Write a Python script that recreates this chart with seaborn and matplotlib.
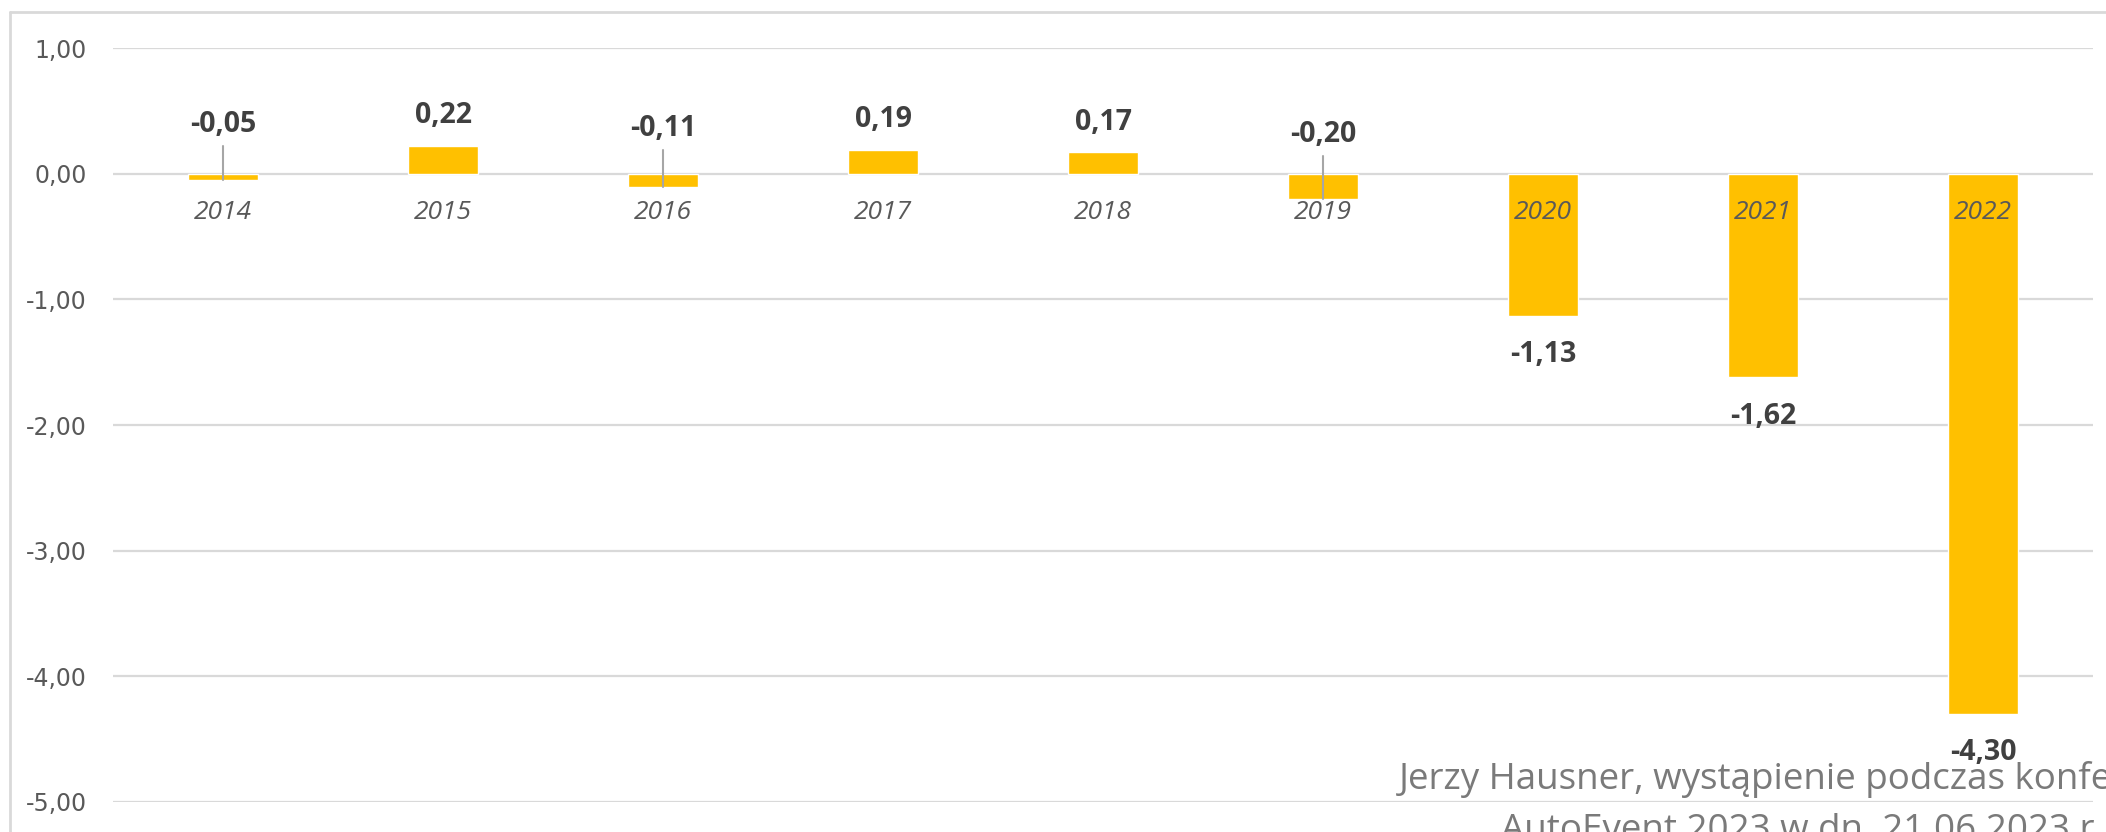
import matplotlib
matplotlib.use("Agg")
import matplotlib.pyplot as plt
from matplotlib import font_manager
from matplotlib.lines import Line2D
import pandas as pd
import seaborn as sns

# data
years = ["2014", "2015", "2016", "2017", "2018", "2019", "2020", "2021", "2022"]
values = [-0.05, 0.22, -0.11, 0.19, 0.17, -0.20, -1.13, -1.62, -4.30]
y_ticks = [1.0, 0.0, -1.0, -2.0, -3.0, -4.0, -5.0]
source_lines = [
    "Jerzy Hausner, wystąpienie podczas konferencji",
    "AutoEvent 2023 w dn. 21.06.2023 r.",
]

BAR = "#FFC000"
GRID = "#D9D9D9"
TICK = "#595959"
LABEL = "#404040"
W, H = 2106, 832


def pick_font(candidates):
    for name in candidates:
        try:
            font_manager.findfont(font_manager.FontProperties(family=name),
                                  fallback_to_default=False)
            return name
        except ValueError:
            pass
    return "DejaVu Sans"


def fmt(v):
    return f"{v:.2f}".replace(".", ",")


sns.set_theme(style="white")
plt.rcParams["font.family"] = ["DejaVu Sans"]
narrow = pick_font(["Liberation Sans Narrow", "Open Sans", "Roboto"])
is_narrow = narrow == "Liberation Sans Narrow"
fam = [narrow, "DejaVu Sans"]

fig = plt.figure(figsize=(W / 100, H / 100), dpi=100)
fig.patch.set_facecolor("white")
ax = fig.add_axes([113 / W, 1 - 802 / H, 1980 / W, 754 / H])

df = pd.DataFrame({"year": years, "value": values})
sns.barplot(data=df, x="year", y="value", color=BAR, saturation=1,
            width=0.32, errorbar=None, ax=ax, zorder=2)

ax.set_ylim(-5, 1)
ax.set_xlim(-0.5, len(years) - 0.5)
ax.set_yticks(y_ticks)
ax.set_yticklabels([fmt(t) for t in y_ticks])
ax.set_xlabel("")
ax.set_ylabel("")

# gridlines behind bars, tick labels above them
ax.hlines(y_ticks, 0, 1, transform=ax.get_yaxis_transform(),
          colors=GRID, lw=1.6, zorder=0.5)
ax.grid(False)
ax.set_axisbelow(False)
for s in ax.spines.values():
    s.set_visible(False)
ax.spines["bottom"].set_position(("data", 0))

ax.tick_params(axis="y", length=0, pad=19, labelsize=17, labelcolor=TICK)
ax.tick_params(axis="x", length=0, pad=19, labelcolor=TICK,
               labelsize=21 if is_narrow else 19)
for lbl in ax.get_xticklabels():
    lbl.set_fontstyle("italic")
    lbl.set_fontfamily(fam)

# data labels
lab_size = 22 if is_narrow else 20.5
for i, v in enumerate(values):
    if v >= 0:
        y = v + 0.24
    elif v < -0.5:
        y = v - 0.31
    else:
        y = 0.42 + 0.55 * v
        ax.plot([i, i], [y - 0.17, v], color="#A6A6A6", lw=1.5, zorder=3)
    ax.text(i, y, fmt(v), ha="center", va="center", fontsize=lab_size,
            fontweight="bold", color=LABEL, family=fam, zorder=4)

# chart frame (top and left edges visible)
fig.add_artist(Line2D([10 / W, 10 / W], [0, 1 - 12 / H], color=GRID, lw=2,
                      transform=fig.transFigure))
fig.add_artist(Line2D([10 / W, 1], [1 - 12 / H, 1 - 12 / H], color=GRID, lw=2,
                      transform=fig.transFigure))

# source note, partly cut by the picture edge as in the original
src_size = 29 if is_narrow else 26.5
fig.text(1803 / W, 1 - 789 / H, source_lines[0], ha="center", va="baseline",
         fontsize=src_size, color="#7A7A7A", family=fam)
fig.text(1803 / W, 1 - 840 / H, source_lines[1], ha="center", va="baseline",
         fontsize=src_size, color="#7A7A7A", family=fam)

fig.savefig("out.png", dpi=100)
